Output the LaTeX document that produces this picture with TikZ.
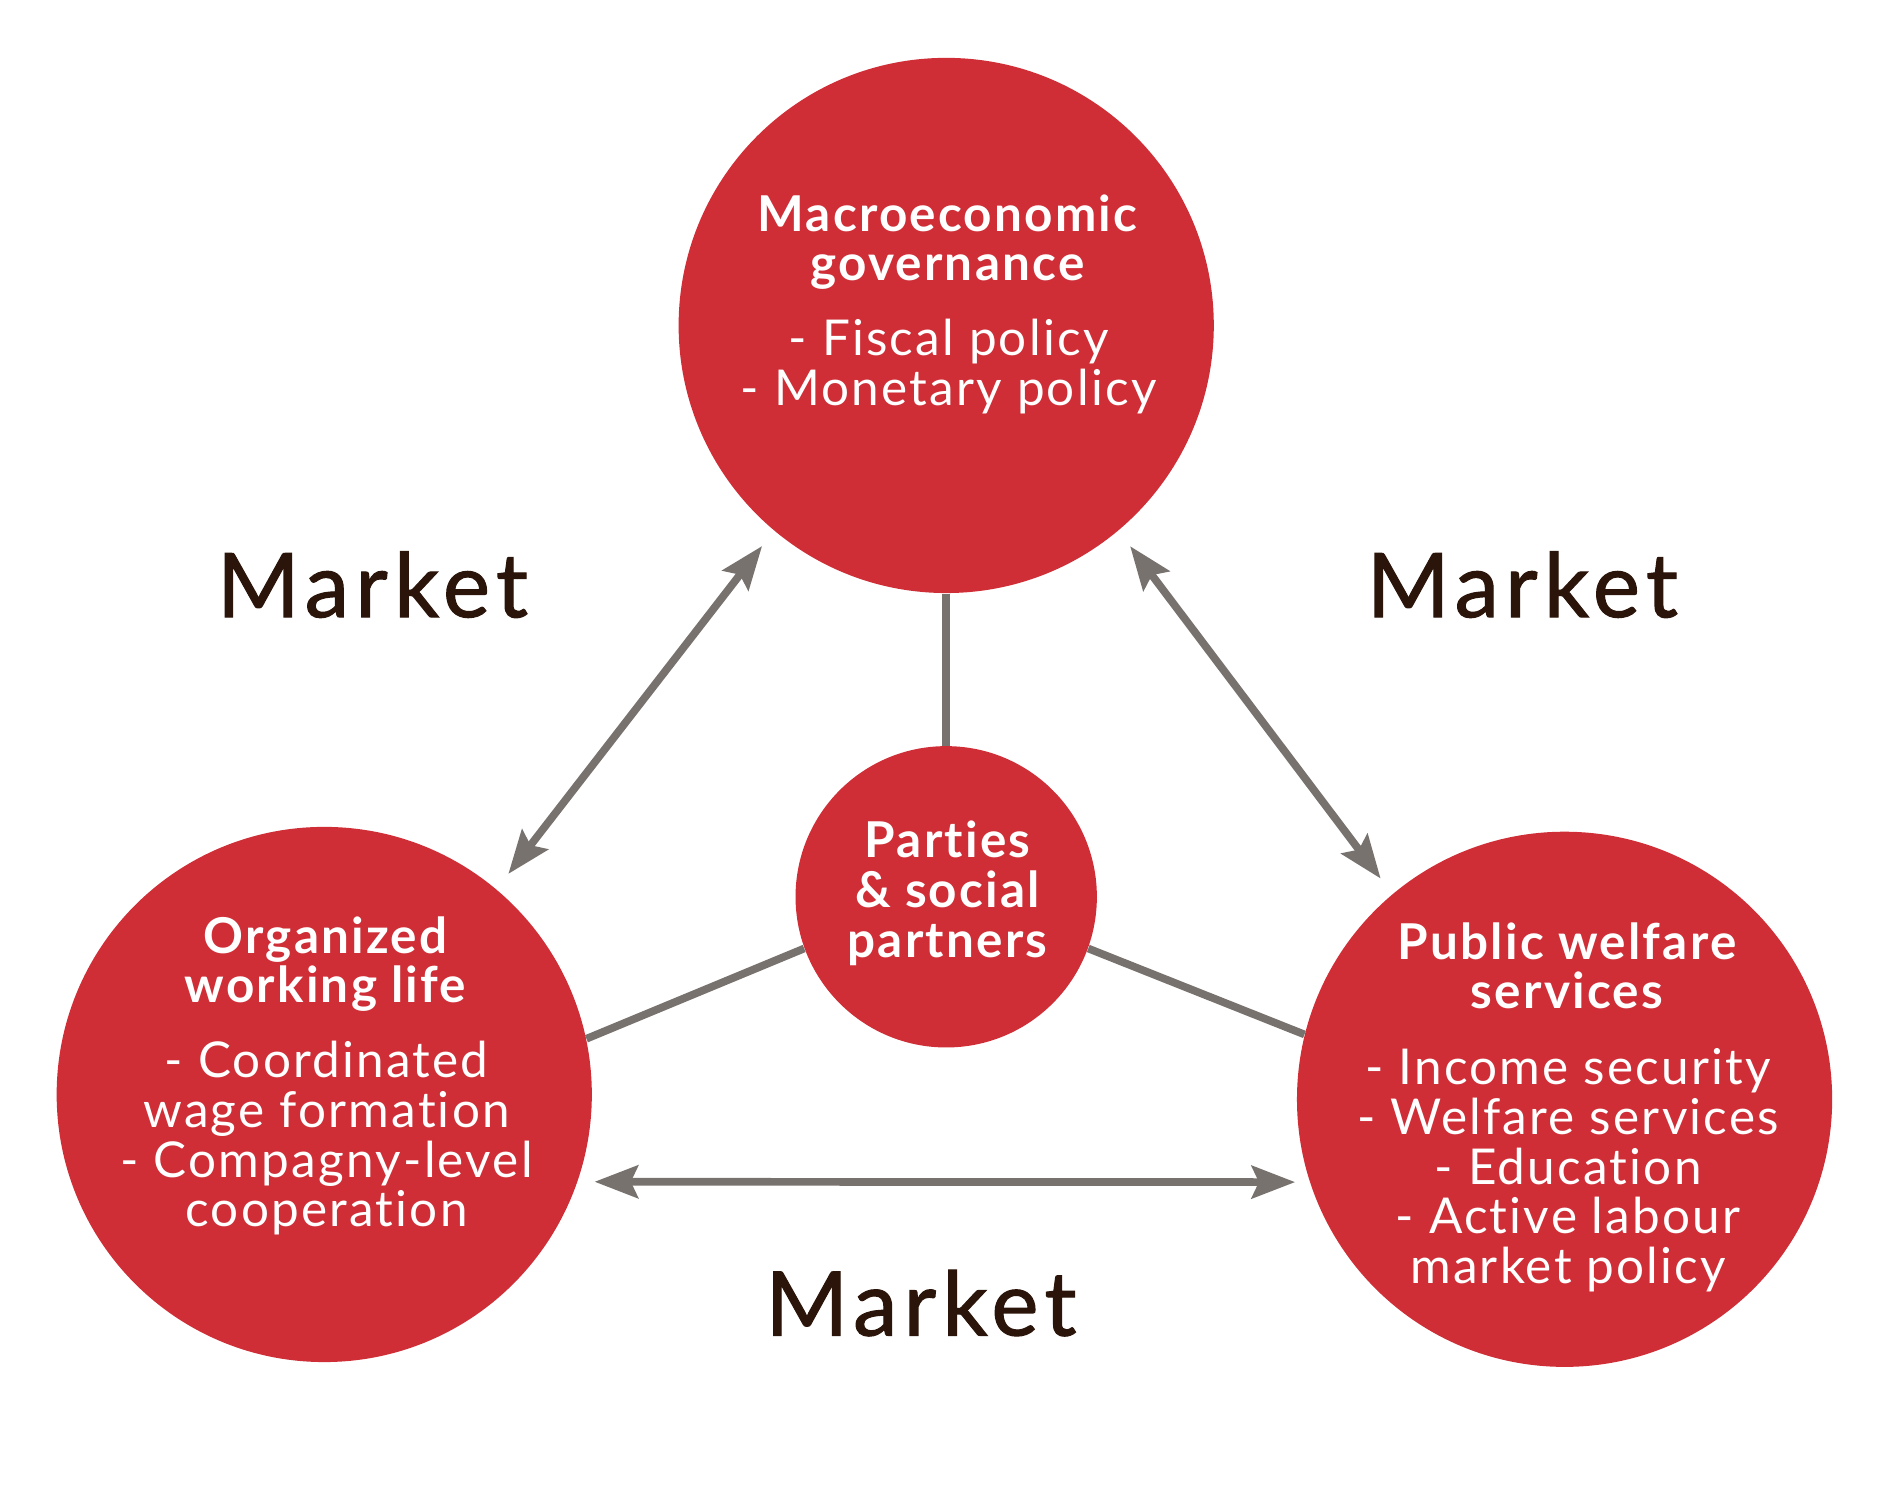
\documentclass[tikz,border=0pt]{standalone}
\usepackage{fontspec}
\setmainfont{Lato}[Ligatures=NoCommon, LetterSpace=4.5]
\newfontfamily\marketfont{Lato}[Ligatures=NoCommon, LetterSpace=7, FakeBold=1.2]
\usepackage{xcolor}
\usetikzlibrary{arrows.meta}
\definecolor{dia_red}{HTML}{CF2E37}
\definecolor{line_grey}{HTML}{77726E}
\definecolor{market_brown}{HTML}{2B1409}

\begin{document}
\begin{tikzpicture}[x=0.5pt, y=-0.5pt,
	bigcircle/.style={circle, fill=dia_red, minimum size=222pt, inner sep=0pt},
	smallcircle/.style={circle, fill=dia_red, minimum size=125pt, inner sep=0pt},
	circletext/.style={white, align=center, anchor=north, inner sep=0pt, font=\fontsize{20.5}{20.6}\selectfont},
	market/.style={market_brown, anchor=base, inner sep=0pt, font=\marketfont\fontsize{37}{40}\selectfont},
	link/.style={line_grey, line width=3.2pt},
	twoway/.style={link, {Stealth[length=18pt, width=13.5pt, inset=3pt]}-{Stealth[length=18pt, width=13.5pt, inset=3pt]}}]
	\useasboundingbox (0, 0) rectangle (1568, 1232);
	\node[bigcircle] (macro) at (785, 270) {};
	\node[bigcircle] (working) at (269, 908) {};
	\node[bigcircle] (welfare) at (1298, 912) {};
	\node[smallcircle] (parties) at (785, 744) {};
	\draw[link] (macro.south) -- (parties.north);
	\draw[link] (parties.200) -- (working.12);
	\draw[link] (parties.340) -- (welfare.166);
	\draw[twoway, shorten <=8pt, shorten >=8pt] (working.50) -- (macro.230);
	\draw[twoway, shorten <=8pt, shorten >=8pt] (macro.310) -- (welfare.130);
	\draw[twoway, shorten <=7pt, shorten >=6pt] (working.-19.5) -- (welfare.198.4);
	\node[circletext] (macrotext) at (787, 161) {\textbf{Macroeconomic}\\\textbf{governance}\\[10.4pt]- Fiscal policy\\- Monetary policy};
	\node[circletext] (workingtext) at (271, 760) {\textbf{Organized}\\\textbf{working life}\\[10.4pt]- Coordinated\\wage formation\\- Compagny-level\\cooperation};
	\node[circletext] (welfaretext) at (1301, 765) {\textbf{Public welfare}\\\textbf{services}\\[10.9pt]- Income security\\- Welfare services\\- Education\\- Active labour\\market policy};
	\node[circletext] (partiestext) at (787, 681) {\textbf{Parties}\\\textbf{\& social}\\\textbf{partners}};
	\node[market] (marketleft) at (309, 512) {Market};
	\node[market] (marketright) at (1263, 512) {Market};
	\node[market] (marketbottom) at (764, 1108) {Market};
\end{tikzpicture}
\end{document}
